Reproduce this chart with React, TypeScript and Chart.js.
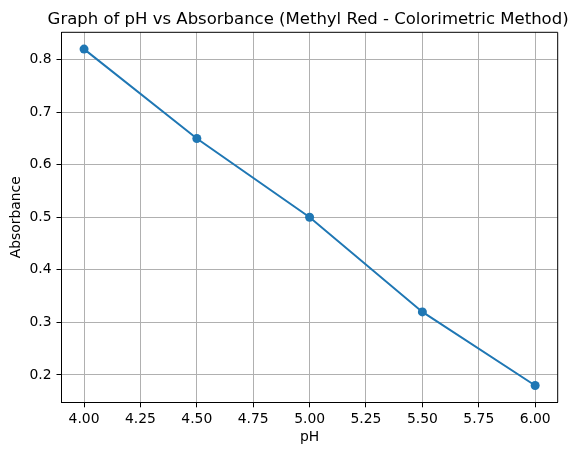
import React, { useEffect, useRef } from "react";
import { Chart, registerables } from "chart.js";

Chart.register(...registerables);

const phValues = [4.0, 4.5, 5.0, 5.5, 6.0];
const absorbance = [0.82, 0.65, 0.5, 0.32, 0.18];
const xTicks = [4.0, 4.25, 4.5, 4.75, 5.0, 5.25, 5.5, 5.75, 6.0];
const yTicks = [0.2, 0.3, 0.4, 0.5, 0.6, 0.7, 0.8];
const chartTitle = "Graph of pH vs Absorbance (Methyl Red - Colorimetric Method)";
const xLabel = "pH";
const yLabel = "Absorbance";

const FONT = "'DejaVu Sans', sans-serif";

export default function App() {
  const ref = useRef<HTMLCanvasElement | null>(null);
  useEffect(() => {
    if (!ref.current) return;
    const chart = new Chart(ref.current, {
      type: "line",
      data: {
        datasets: [
          {
            data: phValues.map((x, i) => ({ x, y: absorbance[i] })),
            borderColor: "#1f77b4",
            backgroundColor: "#1f77b4",
            borderWidth: 2,
            pointRadius: 4.5,
            pointHoverRadius: 4.5,
            pointBorderWidth: 0,
            tension: 0,
          },
        ],
      },
      options: {
        animation: false,
        responsive: false,
        devicePixelRatio: 1,
        layout: { padding: { left: 0, right: 23.3, top: 32.3, bottom: 0 } },
        plugins: {
          legend: { display: false },
          tooltip: { enabled: false },
          title: { display: false },
        },
        scales: {
          x: {
            type: "linear",
            min: 3.9,
            max: 6.1,
            afterBuildTicks: (s: any) => {
              s.ticks = xTicks.map((v) => ({ value: v }));
            },
            afterFit: (s: any) => {
              s.height = 52.7;
            },
            grid: {
              color: "#b0b0b0",
              lineWidth: 1,
              drawTicks: true,
              tickLength: 5,
              tickColor: "#000",
            },
            border: { display: true, color: "#000", width: 1 },
            ticks: {
              color: "#000",
              padding: 4,
              maxRotation: 0,
              autoSkip: false,
              font: { family: FONT, size: 13.9 },
              callback: (v: any) => Number(v).toFixed(2),
            },
            title: {
              display: true,
              text: xLabel,
              color: "#000",
              font: { family: FONT, size: 13.9 },
              padding: { top: 0, bottom: 9 },
            },
          },
          y: {
            type: "linear",
            min: 0.148,
            max: 0.852,
            afterBuildTicks: (s: any) => {
              s.ticks = yTicks.map((v) => ({ value: v }));
            },
            afterFit: (s: any) => {
              s.width = 61.5;
            },
            grid: {
              color: "#b0b0b0",
              lineWidth: 1,
              drawTicks: true,
              tickLength: 5,
              tickColor: "#000",
            },
            border: { display: true, color: "#000", width: 1 },
            ticks: {
              color: "#000",
              padding: 5,
              autoSkip: false,
              font: { family: FONT, size: 13.9 },
              callback: (v: any) => Number(v).toFixed(1),
            },
            title: {
              display: true,
              text: yLabel,
              color: "#000",
              font: { family: FONT, size: 13.9 },
              padding: { top: 8.5, bottom: 0 },
            },
          },
        },
      },
      plugins: [
        {
          id: "frameAndTitle",
          afterDraw: (c: any) => {
            const { left, right, top, bottom } = c.chartArea;
            const ctx = c.ctx;
            ctx.save();
            ctx.strokeStyle = "#000";
            ctx.lineWidth = 1;
            ctx.beginPath();
            ctx.moveTo(left, top);
            ctx.lineTo(right, top);
            ctx.lineTo(right, bottom);
            ctx.stroke();
            ctx.fillStyle = "#000";
            ctx.font = `16.5px ${FONT}`;
            ctx.textAlign = "center";
            ctx.textBaseline = "alphabetic";
            ctx.fillText(chartTitle, (left + right) / 2 - 1.5, top - 8.3);
            ctx.restore();
          },
        },
      ],
    } as any);
    return () => chart.destroy();
  }, []);
  return (
    <div style={{ position: "absolute", left: 0, top: 0, width: 581, height: 455, background: "#fff" }}>
      <canvas ref={ref} width={581} height={455} />
    </div>
  );
}
